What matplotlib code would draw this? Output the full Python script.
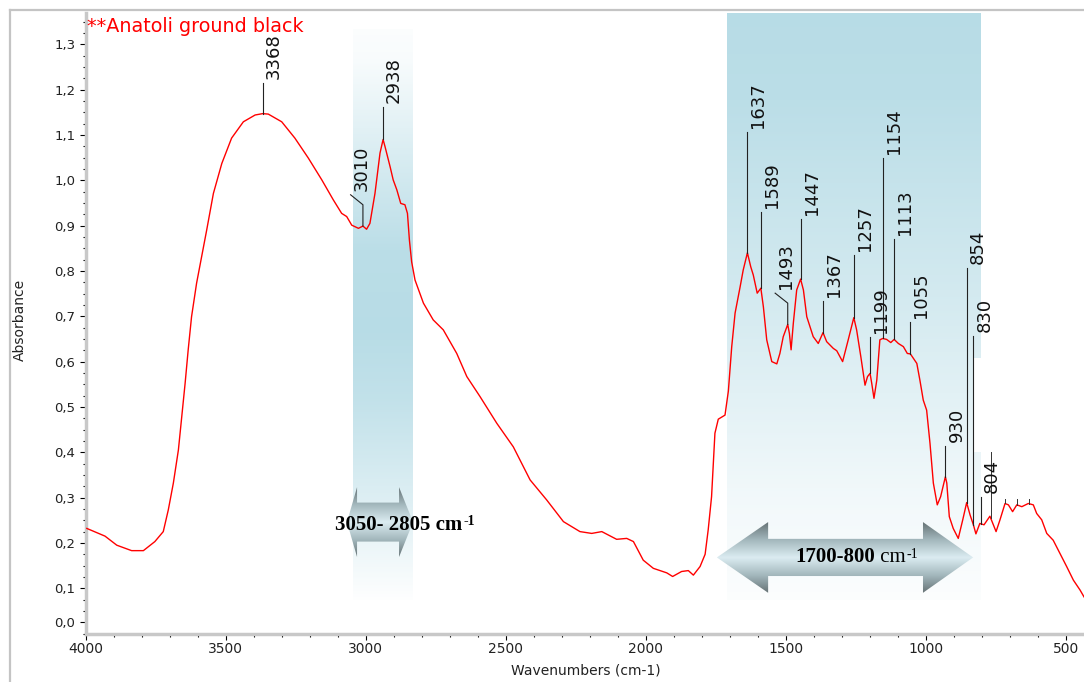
import numpy as np
import matplotlib.pyplot as plt
from matplotlib.patches import Polygon, Rectangle
from matplotlib.lines import Line2D
from matplotlib.ticker import MultipleLocator, FixedLocator

plt.rcParams['font.family'] = ['DejaVu Sans']

W, H = 1084, 682

# FTIR spectrum (wavenumber in cm-1, absorbance)
wavenumber = [3996, 3931, 3889, 3836, 3794, 3753, 3723, 3705, 3687, 3669,
              3657, 3645, 3634, 3622, 3604, 3586, 3568, 3544, 3514, 3479,
              3437, 3395, 3368, 3348, 3300, 3253, 3205, 3157, 3116, 3086,
              3068, 3050, 3026, 3010, 2997, 2985, 2967, 2949, 2938, 2931,
              2913, 2902, 2889, 2875, 2860, 2851, 2844, 2836, 2824, 2794,
              2759, 2723, 2675, 2639, 2592, 2532, 2473, 2413, 2354, 2294,
              2235, 2193, 2157, 2104, 2068, 2044, 2009, 1973, 1925, 1904,
              1872, 1848, 1830, 1806, 1788, 1777, 1765, 1759, 1753, 1741,
              1717, 1705, 1693, 1681, 1663, 1652, 1637, 1625, 1616, 1602,
              1589, 1580, 1568, 1550, 1532, 1521, 1509, 1493, 1487, 1481,
              1473, 1461, 1447, 1437, 1425, 1402, 1384, 1367, 1354, 1330,
              1318, 1297, 1277, 1257, 1247, 1232, 1217, 1208, 1199, 1193,
              1185, 1175, 1164, 1154, 1140, 1125, 1113, 1098, 1080, 1066,
              1055, 1032, 1021, 1009, 997, 985, 973, 959, 947, 930,
              925, 916, 902, 884, 868, 854, 842, 830, 821, 807,
              792, 771, 749, 735, 717, 705, 690, 675, 657, 634,
              616, 604, 586, 568, 545, 521, 497, 473, 449, 435]
absorbance = [0.232, 0.215, 0.195, 0.183, 0.183, 0.203, 0.225, 0.273, 0.332, 0.405,
              0.478, 0.552, 0.626, 0.699, 0.773, 0.831, 0.890, 0.971, 1.037, 1.093,
              1.129, 1.144, 1.147, 1.146, 1.129, 1.093, 1.049, 1.001, 0.957, 0.927,
              0.920, 0.901, 0.894, 0.899, 0.892, 0.905, 0.971, 1.060, 1.090, 1.074,
              1.030, 1.001, 0.979, 0.949, 0.946, 0.927, 0.868, 0.820, 0.780, 0.729,
              0.692, 0.670, 0.618, 0.567, 0.523, 0.464, 0.412, 0.339, 0.295, 0.247,
              0.225, 0.221, 0.225, 0.208, 0.210, 0.203, 0.162, 0.144, 0.134, 0.126,
              0.137, 0.139, 0.129, 0.148, 0.175, 0.229, 0.302, 0.370, 0.442, 0.473,
              0.482, 0.535, 0.633, 0.707, 0.765, 0.802, 0.840, 0.809, 0.791, 0.751,
              0.762, 0.721, 0.648, 0.600, 0.595, 0.618, 0.655, 0.682, 0.662, 0.626,
              0.685, 0.758, 0.782, 0.758, 0.699, 0.655, 0.640, 0.664, 0.644, 0.629,
              0.624, 0.600, 0.648, 0.697, 0.670, 0.611, 0.548, 0.567, 0.574, 0.552,
              0.519, 0.559, 0.648, 0.651, 0.649, 0.642, 0.649, 0.640, 0.633, 0.618,
              0.617, 0.596, 0.559, 0.515, 0.493, 0.420, 0.332, 0.284, 0.302, 0.346,
              0.332, 0.258, 0.232, 0.210, 0.251, 0.289, 0.262, 0.240, 0.220, 0.243,
              0.240, 0.259, 0.225, 0.251, 0.287, 0.284, 0.269, 0.284, 0.280, 0.287,
              0.284, 0.265, 0.251, 0.221, 0.206, 0.177, 0.148, 0.118, 0.096, 0.081]

# peak labels and the height where each leader line stops
peak_labels = [3368, 3010, 2938, 1637, 1589, 1493, 1447, 1367, 1257,
               1199, 1154, 1113, 1055, 930, 854, 830, 804]
peak_tops = [1.215, 0.946, 1.162, 1.107, 0.931, 0.729, 0.915, 0.734, 0.835,
             0.655, 1.049, 0.870, 0.688, 0.414, 0.806, 0.657, 0.302]
# leaders that kink sideways before the text
bent = {3010: (3054, 0.968), 1493: (1538, 0.751)}
# leaders whose text is hidden
unlabeled = [768, 717, 675, 632]
unlabeled_tops = [0.400, 0.296, 0.296, 0.296]

yticks = [0.025, 0.1, 0.2, 0.3, 0.4, 0.5, 0.6, 0.7, 0.8, 0.9, 1.0, 1.1, 1.2, 1.3]
ytick_labels = ['0,0', '0,1', '0,2', '0,3', '0,4', '0,5', '0,6', '0,7',
                '0,8', '0,9', '1,0', '1,1', '1,2', '1,3']

band_blue = (0.72, 0.866, 0.905)

fig = plt.figure(figsize=(W / 100, H / 100), dpi=100)
ax = fig.add_axes([85.7 / W, (H - 633.6) / H, (W - 85.7) / W, (633.6 - 13) / H])

wn_asc = np.array(wavenumber[::-1])
ab_asc = np.array(absorbance[::-1])


def band(x0, x1, yk, ak, y0, y1):
    yy = np.linspace(y0, y1, 300)
    img = np.zeros((300, 1, 4))
    img[..., 0], img[..., 1], img[..., 2] = band_blue
    img[:, 0, 3] = np.interp(yy, yk, ak)
    ax.imshow(img, extent=[x0, x1, y0, y1], origin='lower', aspect='auto',
              interpolation='bilinear', zorder=0)


# shaded regions
band(3045, 2831, [0.074, 0.206, 0.368, 0.515, 0.670, 0.846, 1.067, 1.265, 1.332],
     [0.02, 0.3, 0.6, 0.85, 1.0, 0.95, 0.5, 0.1, 0.05], 0.074, 1.332)
band(1710, 803, [0.074, 0.295, 0.471, 0.736, 1.177, 1.369],
     [0.05, 0.18, 0.35, 0.6, 0.95, 1.0], 0.074, 1.369)
ax.add_patch(Rectangle((830, 0.400), -27, 0.208, fc='white', ec='none', zorder=1))


def block_arrow(xl, xbl, xbr, xr, yc, hh, sh):
    verts = [(xl, yc), (xbl, yc + hh), (xbl, yc + sh), (xbr, yc + sh), (xbr, yc + hh),
             (xr, yc), (xbr, yc - hh), (xbr, yc - sh), (xbl, yc - sh), (xbl, yc - hh)]
    poly = Polygon(verts, closed=True, fc='none', ec='none', zorder=3)
    ax.add_patch(poly)
    t = np.abs(np.linspace(-1, 1, 256))
    dark = (0.40, 0.45, 0.46)
    mid = (0.64, 0.72, 0.74)
    light = (0.86, 0.925, 0.945)
    img = np.ones((256, 1, 4))
    for c in range(3):
        img[:, 0, c] = np.interp(t, [0, 0.5, 1], [light[c], mid[c], dark[c]])
    im = ax.imshow(img, extent=[xl, xr, yc - hh, yc + hh], origin='lower',
                   aspect='auto', interpolation='bilinear', zorder=3)
    im.set_clip_path(poly)


block_arrow(3067, 3031, 2881, 2831, 0.246, 0.077, 0.043)
block_arrow(1746, 1563, 1010, 831, 0.168, 0.078, 0.041)

serif = 'Liberation Serif'
t1 = ax.text(2656, 0.2285, '3050- 2805 cm', family=serif, weight='bold', fontsize=15,
             ha='right', va='baseline', zorder=6)
ax.annotate('-1', xy=(1, 1), xycoords=t1, xytext=(1, 0), textcoords='offset pixels',
            family=serif, weight='bold', fontsize=10, ha='left', va='top', zorder=6)
t2 = ax.text(1181, 0.158, '1700-800', family=serif, weight='bold', fontsize=15,
             ha='right', va='baseline', zorder=6)
t3 = ax.annotate(' cm', xy=(1, 0), xycoords=t2, family=serif, fontsize=15,
                 ha='left', va='bottom', zorder=6)
ax.annotate('-1', xy=(1, 1), xycoords=t3, xytext=(1, 0), textcoords='offset pixels',
            family=serif, fontsize=10, ha='left', va='top', zorder=6)

# spectrum
ax.plot(wavenumber, absorbance, color='#ff0000', lw=1.0, zorder=4)

# peak leaders and labels
for v, top in zip(peak_labels, peak_tops):
    y0 = np.interp(v, wn_asc, ab_asc)
    if v in bent:
        xe, ye = bent[v]
        ax.plot([v, v, xe], [y0, top, ye], color='#222222', lw=0.8, zorder=5)
        anchor = (xe, ye)
    else:
        ax.plot([v, v], [y0, top], color='#222222', lw=0.8, zorder=5)
        anchor = (v, top)
    ax.annotate(str(v), xy=anchor, xytext=(11, 4), textcoords='offset pixels',
                rotation=90, ha='center', va='bottom', fontsize=13, color='#111111',
                zorder=6)
for v, top in zip(unlabeled, unlabeled_tops):
    y0 = np.interp(v, wn_asc, ab_asc)
    ax.plot([v, v], [y0, top], color='#333333', lw=0.7, zorder=5)

ax.set_xlim(4000, 435)
ax.set_ylim(0, 1.369)

ax.xaxis.set_major_locator(MultipleLocator(500))
ax.xaxis.set_minor_locator(MultipleLocator(100))
ax.yaxis.set_major_locator(FixedLocator(yticks))
ax.set_yticklabels(ytick_labels)
ax.yaxis.set_minor_locator(MultipleLocator(0.025))

for s in ['top', 'right']:
    ax.spines[s].set_visible(False)
for s in ['left', 'bottom']:
    ax.spines[s].set_color('#c8c8c8')
    ax.spines[s].set_linewidth(2.5)

ax.tick_params(which='major', direction='out', length=4, width=0.8, color='black')
ax.tick_params(which='minor', direction='out', length=2.5, width=0.8, color='black')
ax.tick_params(axis='x', labelsize=10, pad=2, labelcolor='#222222')
ax.tick_params(axis='y', labelsize=9.5, pad=3.5, labelcolor='#222222')

fig.text(87 / W, 1 - 32.3 / H, '**Anatoli ground black', color='#ff0000',
         fontsize=13.8, ha='left', va='baseline')
fig.text(20 / W, 1 - 320 / H, 'Absorbance', rotation=90, ha='center', va='center',
         fontsize=10, color='#222222')
fig.text(586 / W, 1 - 671 / H, 'Wavenumbers (cm-1)', ha='center', va='center',
         fontsize=10, color='#222222')

# outer frame
fig.add_artist(Line2D([10 / W, 10 / W], [0, 1 - 10 / H], transform=fig.transFigure,
                      color='#c4c4c4', lw=1.6))
fig.add_artist(Line2D([10 / W, 1], [1 - 10 / H, 1 - 10 / H], transform=fig.transFigure,
                      color='#c4c4c4', lw=1.6))

fig.savefig('out.png', dpi=100)
